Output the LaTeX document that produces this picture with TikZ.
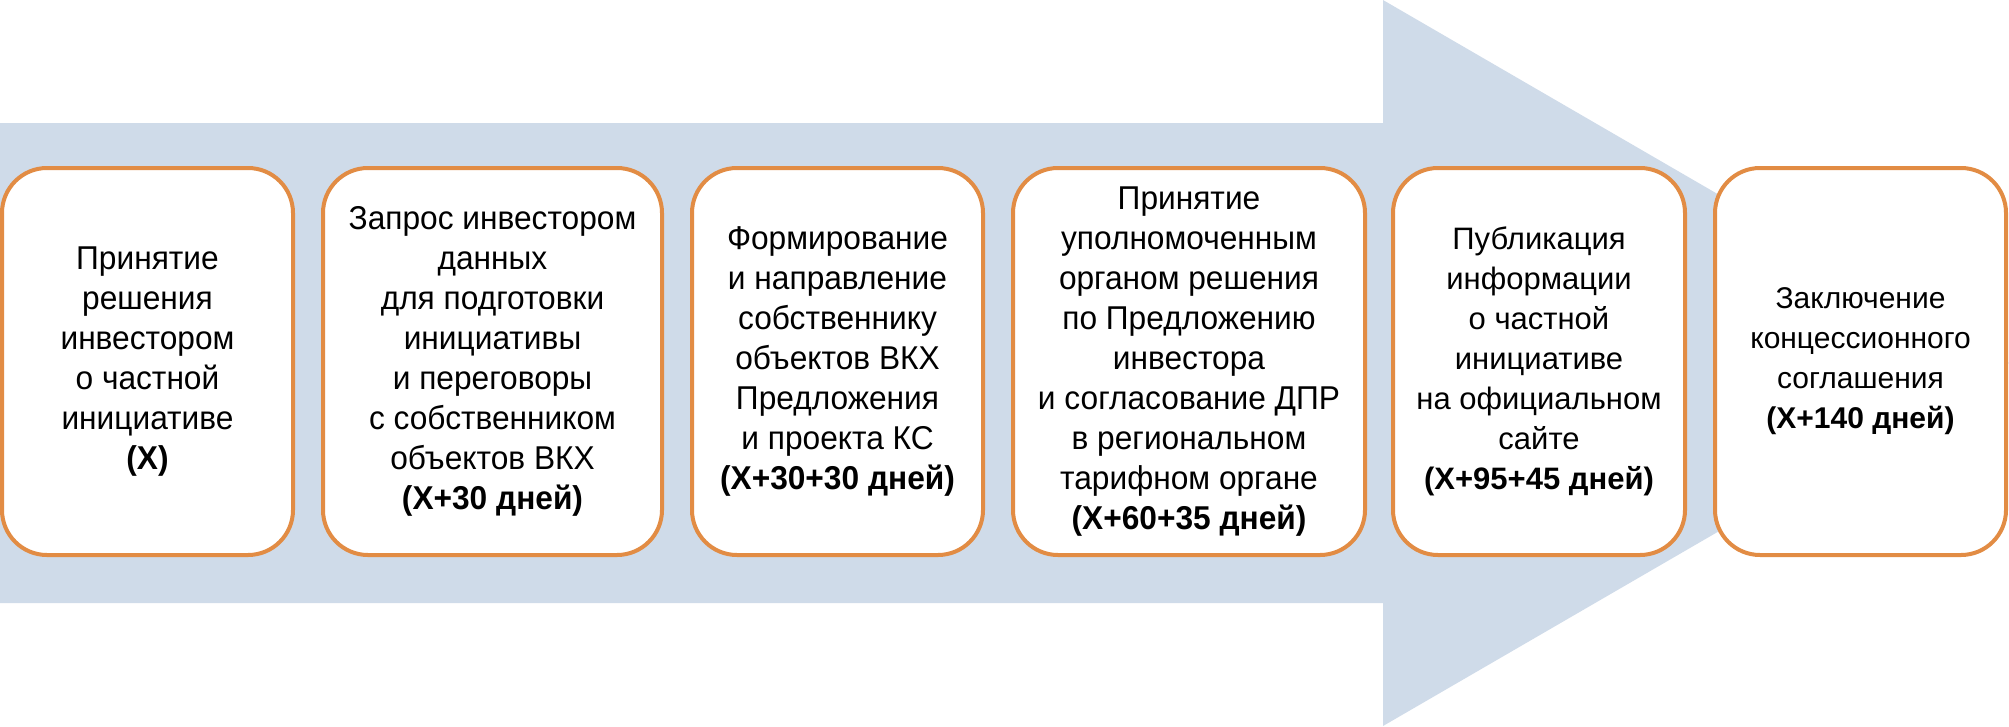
\documentclass[tikz,border=0pt]{standalone}
\usepackage{fontspec}
\setmainfont{Liberation Sans}
\newfontfamily\narrowsans[FakeStretch=0.96]{Liberation Sans}
\definecolor{bandblue}{RGB}{207,219,233}
\definecolor{edgeorange}{RGB}{226,140,68}
\begin{document}
\begin{tikzpicture}[x=1pt,y=-1pt,
  stepbox/.style={draw=edgeorange, line width=4pt, fill=white, rounded corners=45pt,
    align=center, inner sep=0pt, font=\fontsize{31}{40}\selectfont, minimum height=387pt},
  narrowbox/.style={stepbox, font=\narrowsans\fontsize{33}{40}\selectfont},
]
\useasboundingbox (0,0) rectangle (2009,726);
\fill[bandblue] (0,123) -- (1383,123) -- (1383,0) -- (2009,363) -- (1383,726) -- (1383,603) -- (0,603) -- cycle;
\node[narrowbox, minimum width=291pt] (b1) at (147.5,361.5)
  {Принятие\\решения\\инвестором\\о частной\\инициативе\\\textbf{(X)}};
\node[narrowbox, minimum width=339pt] (b2) at (492.5,361.5)
  {Запрос инвестором\\данных\\для подготовки\\инициативы\\и переговоры\\с собственником\\объектов ВКХ\\\textbf{(X+30 дней)}};
\node[narrowbox, minimum width=291pt] (b3) at (837.5,361.5)
  {Формирование\\и направление\\собственнику\\объектов ВКХ\\Предложения\\и проекта КС\\\textbf{(X+30+30 дней)}};
\node[narrowbox, minimum width=352pt] (b4) at (1189,361.5)
  {Принятие\\уполномоченным\\органом решения\\по Предложению\\инвестора\\и согласование ДПР\\в региональном\\тарифном органе\\\textbf{(X+60+35 дней)}};
\node[stepbox, minimum width=292pt] (b5) at (1539,361.5)
  {Публикация\\информации\\о частной\\инициативе\\на официальном\\сайте\\\textbf{(X+95+45 дней)}};
\node[stepbox, minimum width=291pt, font=\fontsize{30}{40}\selectfont] (b6) at (1860.5,361.5)
  {Заключение\\концессионного\\соглашения\\\textbf{(X+140 дней)}};
\end{tikzpicture}
\end{document}
